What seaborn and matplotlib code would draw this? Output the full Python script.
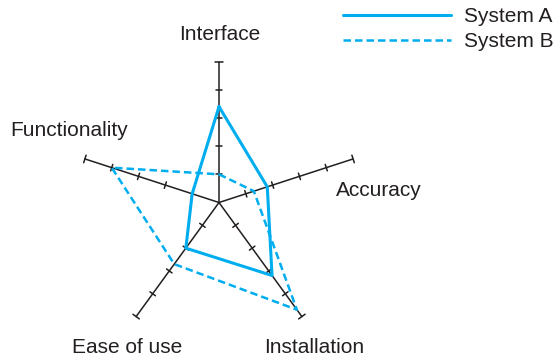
import numpy as np
import pandas as pd
import matplotlib
matplotlib.use('Agg')
import matplotlib.pyplot as plt
import seaborn as sns

# data (scale 0-5)
categorias = ['Interface', 'Accuracy', 'Installation', 'Ease of use', 'Functionality']
system_a = [3.4, 1.8, 3.2, 2.0, 1.0]
system_b = [1.0, 1.3, 4.7, 2.7, 4.0]
ticks = [1, 2, 3, 4]
r_max = 5

sns.set_style('white')
plt.rcParams['font.family'] = ['Liberation Sans', 'DejaVu Sans']

azul = '#00AEEF'
negro = '#231F20'

# ejes en sentido horario desde arriba
angulos = np.deg2rad(90 - 72 * np.arange(len(categorias)))

def polar_xy(valores):
    v = np.array(list(valores) + [valores[0]])
    a = np.append(angulos, angulos[0])
    return pd.DataFrame({'x': v * np.cos(a), 'y': v * np.sin(a), 'orden': np.arange(len(v))})

fig = plt.figure(figsize=(5.57, 3.6), dpi=100)
ax = fig.add_axes([0, 0, 1, 1])
ax.set_xlim(-7.766, 11.986)
ax.set_ylim(-5.585, 7.181)
ax.axis('off')

# radios y marcas
for ang in angulos:
    c, s = np.cos(ang), np.sin(ang)
    ax.plot([0, r_max * c], [0, r_max * s], color=negro, lw=1.1, zorder=1)
    for t in ticks + [r_max]:
        h = 0.14 if t == r_max else 0.12
        px, py = t * c, t * s
        ax.plot([px + h * s, px - h * s], [py - h * c, py + h * c], color=negro, lw=1.1, zorder=1)

df_a = polar_xy(system_a)
df_b = polar_xy(system_b)
sns.lineplot(data=df_b, x='x', y='y', sort=False, estimator=None, color=azul, lw=1.8,
             linestyle=(0, (3, 1.6)), label='System B', ax=ax, zorder=2)
sns.lineplot(data=df_a, x='x', y='y', sort=False, estimator=None, color=azul, lw=2.2,
             label='System A', ax=ax, zorder=3)

# etiquetas de los ejes
pos_etiquetas = {'Interface': (0.04, 5.94), 'Accuracy': (5.66, 0.44), 'Installation': (3.37, -5.14),
                 'Ease of use': (-3.27, -5.14), 'Functionality': (-5.32, 2.54)}
for cat in categorias:
    x, y = pos_etiquetas[cat]
    ax.text(x, y, cat, ha='center', va='center', fontsize=15, color=negro)

handles, labels = ax.get_legend_handles_labels()
orden = [labels.index('System A'), labels.index('System B')]
leg = ax.legend([handles[i] for i in orden], [labels[i] for i in orden],
                loc='upper right', bbox_to_anchor=(554 / 557, 1 - 7 / 360), frameon=False,
                fontsize=15, handlelength=5.23, handletextpad=0.62, labelspacing=0.3,
                borderpad=0, borderaxespad=0)
for t in leg.get_texts():
    t.set_color(negro)

ax.set_xlabel('')
ax.set_ylabel('')
fig.savefig('out.png', dpi=100)
